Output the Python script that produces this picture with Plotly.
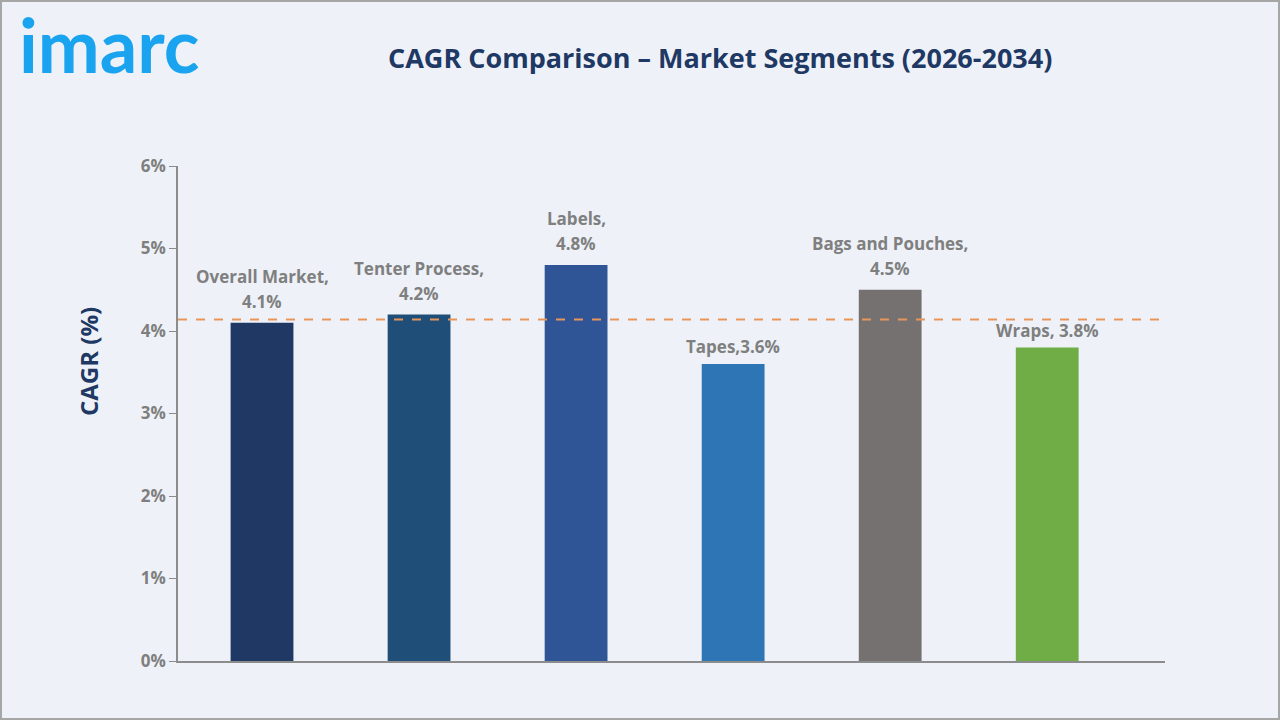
import plotly.graph_objects as go

categories = ["Overall Market", "Tenter Process", "Labels", "Tapes", "Bags and Pouches", "Wraps"]
values = [4.1, 4.2, 4.8, 3.6, 4.5, 3.8]
labels = ["Overall Market,<br>4.1%", "Tenter Process,<br>4.2%", "Labels,<br>4.8%", "Tapes,3.6%", "Bags and Pouches,<br>4.5%", "Wraps, 3.8%"]
colors = ["#203864", "#1f4e79", "#2f5597", "#2e75b6", "#767171", "#70ad47"]
reference_value = 4.14
tick_vals = [0, 1, 2, 3, 4, 5, 6]
tick_text = ["0%", "1%", "2%", "3%", "4%", "5%", "6%"]

FONT = "Open Sans"
BG = "#eef2f8"
L, R, T, B = 178, 115, 166, 59
PW, PH = 1280 - L - R, 720 - T - B

def px(x):
    return (x - L) / PW

def py(y):
    return (720 - B - y) / PH

fig = go.Figure()
fig.add_trace(go.Bar(x=list(range(len(categories))), y=values, marker=dict(color=colors, line=dict(width=0)),
                     width=0.40, hoverinfo="skip", hovertext=categories))

for i, (v, t) in enumerate(zip(values, labels)):
    lines = t.split("<br>")
    base = 8 if len(lines) > 1 else 4
    for k, line in enumerate(reversed(lines)):
        fig.add_annotation(x=i, y=v, text=line, showarrow=False, yanchor="bottom", yshift=base + 25 * k,
                           font=dict(family=FONT, size=17, color="#7f7f7f", weight="bold"))

fig.add_shape(type="line", xref="paper", x0=0, x1=1, yref="y", y0=reference_value, y1=reference_value,
              line=dict(color="#e8955a", width=2, dash="dash"))

fig.add_annotation(xref="paper", yref="paper", x=px(720), y=py(58), text="<b>CAGR Comparison – Market Segments (2026-2034)</b>",
                   showarrow=False, font=dict(family=FONT, size=27, color="#203864"), xanchor="center", yanchor="middle")

fig.add_annotation(xref="paper", yref="paper", x=px(17), y=py(45), text="<b>imarc</b>", showarrow=False,
                   font=dict(family="Lato", size=74, color="#1aa3ef"), xanchor="left", yanchor="middle")

fig.add_annotation(xref="paper", yref="paper", x=px(88), y=py(362), text="<b>CAGR (%)</b>", showarrow=False,
                   textangle=-90, font=dict(family=FONT, size=24, color="#203864"), xanchor="center", yanchor="middle")

fig.add_shape(type="rect", xref="paper", yref="paper", x0=px(1), x1=px(1279), y0=py(719), y1=py(1),
              line=dict(color="#a6a6a6", width=2), layer="below")

fig.update_layout(
    width=1280, height=720,
    paper_bgcolor=BG, plot_bgcolor=BG,
    margin=dict(l=L, r=R, t=T, b=B),
    showlegend=False,
    xaxis=dict(range=[-0.535, 5.75], showticklabels=False, showline=True, linecolor="#8c8c8c", linewidth=1.5,
               ticks="", showgrid=False, zeroline=False),
    yaxis=dict(range=[0, 6], tickvals=tick_vals, ticktext=tick_text, showline=True, linecolor="#8c8c8c",
               linewidth=1.5, ticks="outside", ticklen=7, tickcolor="#8c8c8c", showgrid=False, zeroline=False,
               tickfont=dict(family=FONT, size=17, color="#7f7f7f", weight="bold")),
)

fig.write_html("out.html")
